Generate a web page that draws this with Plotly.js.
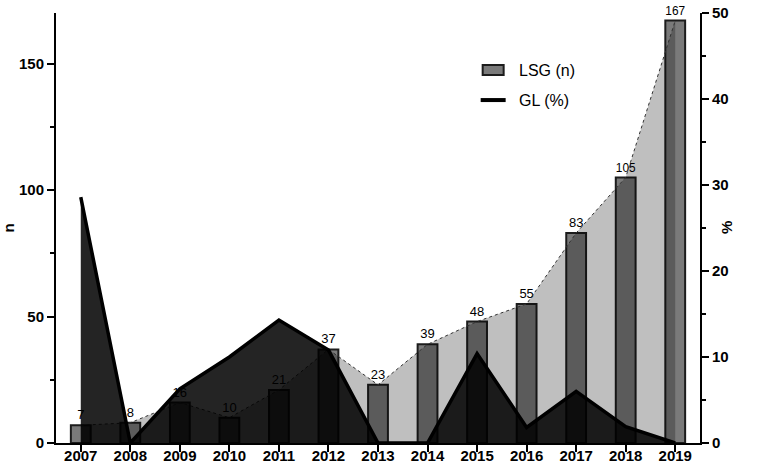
<!DOCTYPE html>
<html>
<head>
<meta charset="utf-8">
<script src="https://cdn.plot.ly/plotly-3.0.1.min.js"></script>
<style>
html,body{margin:0;padding:0;background:#fff;}
#chart{width:762px;height:468px;}
</style>
</head>
<body>
<div id="chart"></div>
<script>
// Data
const years = [2007, 2008, 2009, 2010, 2011, 2012, 2013, 2014, 2015, 2016, 2017, 2018, 2019];
const lsgCounts = [7, 8, 16, 10, 21, 37, 23, 39, 48, 55, 83, 105, 167];
const glPercent = [28.6, 0, 6.3, 10.0, 14.3, 10.8, 0, 0, 10.4, 1.8, 6.0, 1.9, 0];
const lsgName = 'LSG (n)';
const glName = 'GL (%)';

const FONT = 'Liberation Sans, Arial, sans-serif';
const TICKFONT = {family: FONT, size: 15, weight: 'bold', color: '#000'};

const traces = [
  {
    type: 'bar',
    x: years,
    y: lsgCounts,
    name: lsgName,
    width: 0.4,
    marker: {color: 'rgb(122,122,122)', line: {color: '#1c1c1c', width: 2}},
    text: lsgCounts.map(String),
    textposition: 'outside',
    textfont: {family: FONT, size: 13, color: '#000'},
    cliponaxis: false,
    showlegend: false,
    xaxis: 'x', yaxis: 'y'
  },
  {
    type: 'scatter',
    mode: 'lines',
    x: years,
    y: lsgCounts,
    fill: 'tozeroy',
    fillcolor: 'rgba(0,0,0,0.25)',
    line: {color: '#333', width: 1, dash: 'dot'},
    showlegend: false,
    hoverinfo: 'skip',
    xaxis: 'x', yaxis: 'y'
  },
  {
    type: 'scatter',
    mode: 'lines',
    x: years,
    y: glPercent,
    name: glName,
    fill: 'tozeroy',
    fillcolor: 'rgba(0,0,0,0.86)',
    line: {color: '#000', width: 3.5},
    showlegend: false,
    xaxis: 'x', yaxis: 'y2'
  }
];

const layout = {
  width: 762,
  height: 468,
  margin: {l: 56, r: 61.5, t: 13, b: 25.3},
  paper_bgcolor: '#fff',
  plot_bgcolor: 'rgba(0,0,0,0)',
  font: {family: FONT, color: '#000'},
  showlegend: false,
  xaxis: {
    type: 'linear',
    range: [2006.5, 2019.5],
    tickvals: years,
    ticktext: years.map(String),
    showgrid: false,
    zeroline: false,
    showline: true,
    linecolor: '#000',
    linewidth: 2,
    ticks: 'outside',
    ticklen: 7,
    tickwidth: 2,
    tickcolor: '#000',
    ticklabelstandoff: -9,
    tickfont: TICKFONT,
    fixedrange: true
  },
  yaxis: {
    range: [0, 170],
    tick0: 0,
    dtick: 50,
    showgrid: false,
    zeroline: false,
    showline: true,
    linecolor: '#000',
    linewidth: 2,
    ticks: 'outside',
    ticklen: 7,
    tickwidth: 2,
    tickcolor: '#000',
    tickfont: TICKFONT,
    minor: {dtick: 25, tick0: 0, ticks: 'outside', ticklen: 4, tickwidth: 2, tickcolor: '#000', showgrid: false},
    title: {text: 'n', font: {family: FONT, size: 15, weight: 'bold', color: '#000'}, standoff: 4}
  },
  yaxis2: {
    overlaying: 'y',
    side: 'right',
    range: [0, 50],
    tick0: 0,
    dtick: 10,
    showgrid: false,
    zeroline: false,
    showline: true,
    linecolor: '#000',
    linewidth: 2,
    ticks: 'outside',
    ticklen: 7,
    tickwidth: 2,
    tickcolor: '#000',
    tickfont: TICKFONT,
    minor: {dtick: 5, tick0: 0, ticks: 'outside', ticklen: 4, tickwidth: 2, tickcolor: '#000', showgrid: false}
  },
  shapes: [
    // legend swatches (paper coordinates)
    {type: 'rect', xref: 'paper', yref: 'paper',
     x0: (483 - 56) / 644.5, x1: (504 - 56) / 644.5,
     y0: (442.7 - 75) / 429.7, y1: (442.7 - 65) / 429.7,
     fillcolor: 'rgb(122,122,122)', line: {color: '#1c1c1c', width: 2}},
    {type: 'line', xref: 'paper', yref: 'paper',
     x0: (481 - 56) / 644.5, x1: (506 - 56) / 644.5,
     y0: (442.7 - 100) / 429.7, y1: (442.7 - 100) / 429.7,
     line: {color: '#000', width: 4}}
  ],
  annotations: [
    {
      text: '%', xref: 'paper', yref: 'paper', x: 1, y: 0.5,
      xanchor: 'center', yanchor: 'middle', xshift: 26, textangle: -90, showarrow: false,
      font: {family: FONT, size: 15, weight: 'bold', color: '#000'}
    },
    {
      text: lsgName, xref: 'paper', yref: 'paper',
      x: (517 - 56) / 644.5, y: (442.7 - 70) / 429.7,
      xanchor: 'left', yanchor: 'middle', showarrow: false,
      font: {family: FONT, size: 16, color: '#000'}
    },
    {
      text: glName, xref: 'paper', yref: 'paper',
      x: (517 - 56) / 644.5, y: (442.7 - 100) / 429.7,
      xanchor: 'left', yanchor: 'middle', showarrow: false,
      font: {family: FONT, size: 16, color: '#000'}
    }
  ]
};

Plotly.newPlot('chart', traces, layout, {displayModeBar: false, staticPlot: true});
</script>
</body>
</html>
